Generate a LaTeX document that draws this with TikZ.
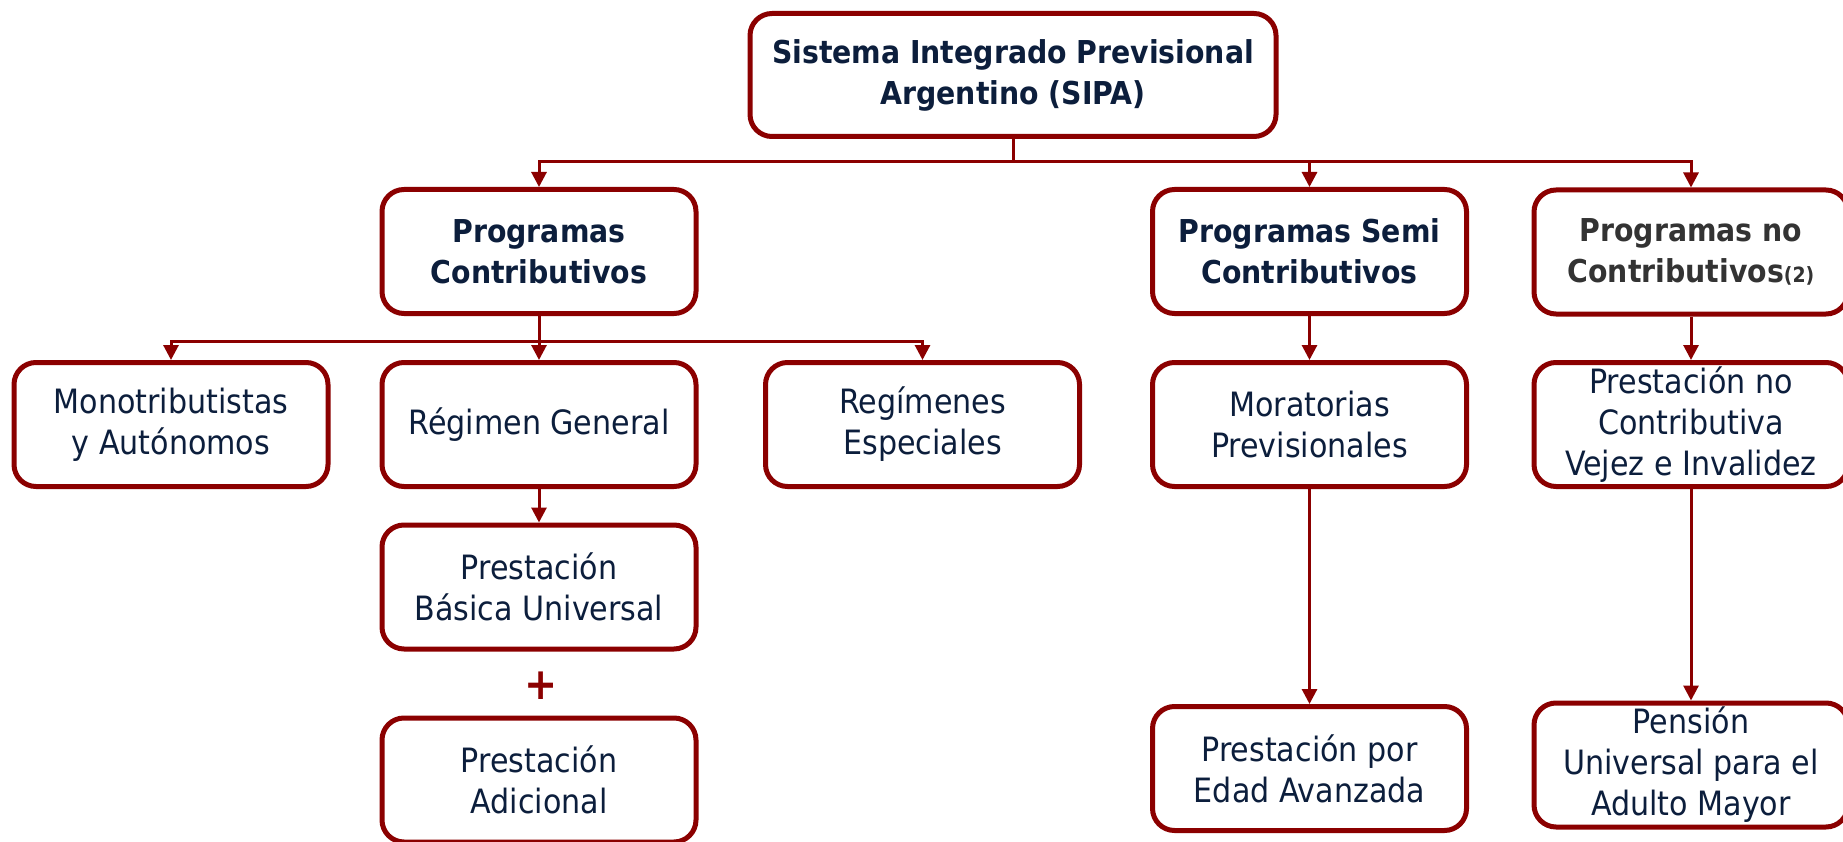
\documentclass[tikz,border=0pt]{standalone}
\usepackage{fontspec}
\setmainfont{DejaVu Sans Condensed}
\usetikzlibrary{arrows.meta}
\definecolor{sipared}{HTML}{8B0000}
\definecolor{sipanavy}{HTML}{0C1E3C}
\definecolor{sipagray}{HTML}{333333}

\begin{document}
\begin{tikzpicture}[
  x=1pt, y=-1pt,
  box/.style={draw=sipared, line width=5pt, rounded corners=22pt, fill=white,
              minimum width=314pt, minimum height=124pt, align=center,
              text=sipanavy, inner sep=0pt,
              font=\fontsize{33.5}{41}\selectfont},
  headbox/.style={box, font=\bfseries\fontsize{31.5}{41}\selectfont},
  link/.style={draw=sipared, line width=3pt,
               -{Triangle[length=15pt, width=15pt]}},
  plus/.style={text=sipared, font=\bfseries\fontsize{44}{44}\selectfont},
]
\useasboundingbox (0,0) rectangle (1843,842);

% ---- top ----
\node[headbox, minimum width=526pt, minimum height=123pt] (sipa) at (1013, 75)
  {Sistema Integrado Previsional\\Argentino (SIPA)};

% ---- program level ----
\node[headbox] (contrib) at (539, 251.5) {Programas\\Contributivos};
\node[headbox] (semi) at (1309.5, 251.5) {Programas Semi\\Contributivos};
\node[headbox, text=sipagray] (nocontrib) at (1691, 252)
  {Programas no\\Contributivos{\fontsize{21}{21}\selectfont(2)}};

% ---- regimes ----
\node[box] (mono) at (171, 424.5) {Monotributistas\\y Autónomos};
\node[box] (general) at (539, 424.5) {Régimen General};
\node[box] (especiales) at (922.5, 424.5) {Regímenes\\Especiales};
\node[box] (moratorias) at (1309.5, 424.5) {Moratorias\\Previsionales};
\node[box] (pnc) at (1691, 424.5) {Prestación no\\Contributiva\\Vejez e Invalidez};

% ---- benefits ----
\node[box] (pbu) at (539, 587) {Prestación\\Básica Universal};
\node[plus] (sum) at (541, 686) {+};
\node[box] (adicional) at (539, 780) {Prestación\\Adicional};
\node[box] (edad) at (1309.5, 768.5) {Prestación por\\Edad Avanzada};
\node[box] (puam) at (1691, 765) {Pensión\\Universal para el\\Adulto Mayor};

% ---- connectors ----
\foreach \n in {contrib,semi,nocontrib}
  \draw[link] (sipa.south) -- ++(0,23) -| (\n.north);
\foreach \n in {mono,general,especiales}
  \draw[link] (contrib.south) -- ++(0,25) -| (\n.north);
\draw[link] (general.south) -- (pbu.north);
\draw[link] (semi.south) -- (moratorias.north);
\draw[link] (moratorias.south) -- (edad.north);
\draw[link] (nocontrib.south) -- (pnc.north);
\draw[link] (pnc.south) -- (puam.north);

\end{tikzpicture}
\end{document}
